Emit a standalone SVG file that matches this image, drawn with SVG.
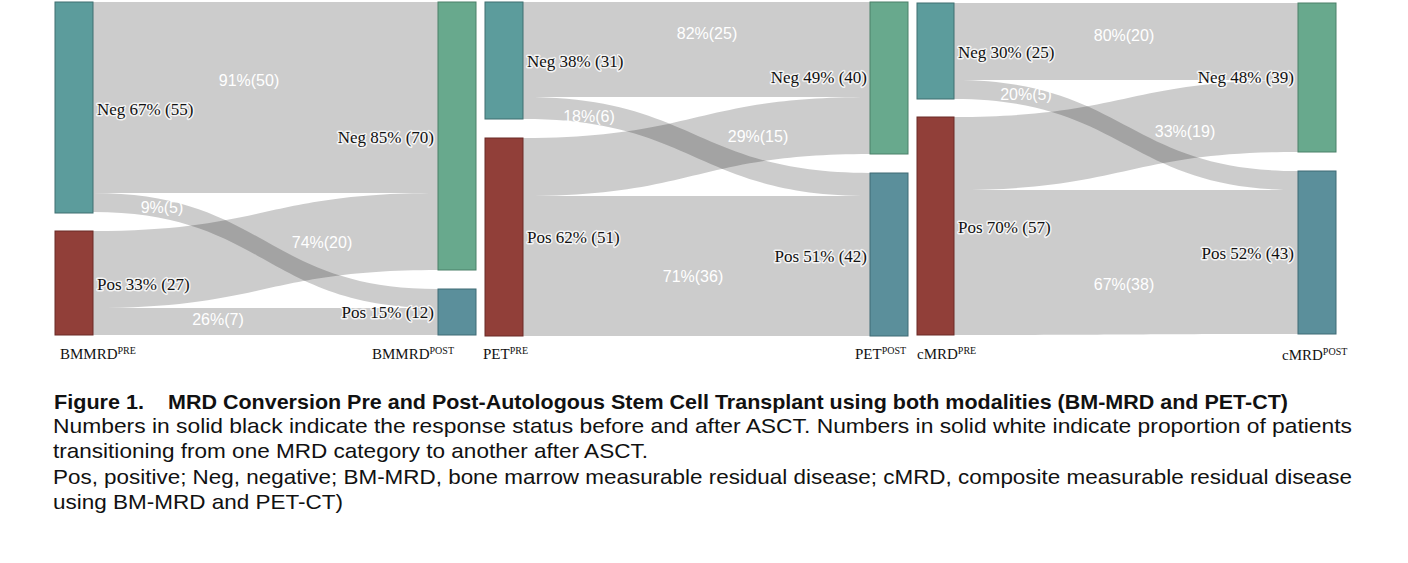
<svg xmlns="http://www.w3.org/2000/svg" width="1408" height="563" viewBox="0 0 1408 563">
<style>
.flow{fill:#000;fill-opacity:0.2}
.nneg{fill:#5c9c9c;stroke:#3f6f70;stroke-width:1}
.npos{fill:#913f39;stroke:#6a2a26;stroke-width:1}
.pneg{fill:#68a98d;stroke:#4a8068;stroke-width:1}
.ppos{fill:#5b8f9b;stroke:#3f6a74;stroke-width:1}
.nl{font-family:"Liberation Serif","Times New Roman",serif;font-size:17px;fill:#111;stroke:#fff;stroke-width:3;stroke-opacity:0.8;paint-order:stroke;stroke-linejoin:round}
.fl{font-family:"Liberation Sans",Arial,sans-serif;font-size:16px;fill:#fff;text-anchor:middle}
.ax{font-family:"Liberation Serif","Times New Roman",serif;font-size:15px;fill:#111}
.sup{font-size:10px}
.cap{font-family:"Liberation Sans",Arial,sans-serif;font-size:21px;fill:#111}
.capb{font-family:"Liberation Sans",Arial,sans-serif;font-size:21px;font-weight:bold;fill:#111}
</style>
<rect width="1408" height="563" fill="#fff"/>
<g id="connectors">
<path class="flow" d="M93,2 L438,2 L438,193 L93,193 Z"/>
<path class="flow" d="M93,193 C265,193 265,289 438,289 L438,308 C265,308 265,212 93,212 Z"/>
<path class="flow" d="M93,231 C265,231 265,193 438,193 L438,270 C265,270 265,308 93,308 Z"/>
<path class="flow" d="M93,308 L438,308 L438,335 L93,335 Z"/>
<path class="flow" d="M523,2 L870,2 L870,97 L523,97 Z"/>
<path class="flow" d="M523,97 C696,97 696,173 870,173 L870,196 C696,196 696,119 523,119 Z"/>
<path class="flow" d="M523,138 C696,138 696,97 870,97 L870,154 C696,154 696,196 523,196 Z"/>
<path class="flow" d="M523,196 L870,196 L870,336 L523,336 Z"/>
<path class="flow" d="M954,3 L1298,3 L1298,80 L954,80 Z"/>
<path class="flow" d="M954,80 C1126,80 1126,171 1298,171 L1298,190 C1126,190 1126,99 954,99 Z"/>
<path class="flow" d="M954,117 C1126,117 1126,80 1298,80 L1298,152 C1126,152 1126,190 954,190 Z"/>
<path class="flow" d="M954,190 L1298,190 L1298,334 C1126,334 1126,335 954,335 Z"/>
</g>
<g id="flow-labels">
<text class="fl" x="249" y="86">91%(50)</text>
<text class="fl" x="162" y="213">9%(5)</text>
<text class="fl" x="322" y="248">74%(20)</text>
<text class="fl" x="218" y="325">26%(7)</text>
<text class="fl" x="707" y="39">82%(25)</text>
<text class="fl" x="589" y="122">18%(6)</text>
<text class="fl" x="758" y="142">29%(15)</text>
<text class="fl" x="693" y="282">71%(36)</text>
<text class="fl" x="1124" y="41">80%(20)</text>
<text class="fl" x="1026" y="100">20%(5)</text>
<text class="fl" x="1185" y="137">33%(19)</text>
<text class="fl" x="1124" y="290">67%(38)</text>
</g>
<g id="bm-pre-neg"><rect class="nneg" x="55" y="2" width="38" height="211"/><text class="nl" x="97" y="115">Neg 67% (55)</text></g>
<g id="bm-pre-pos"><rect class="npos" x="55" y="231" width="38" height="104"/><text class="nl" x="97" y="290">Pos 33% (27)</text></g>
<g id="bm-post-neg"><rect class="pneg" x="438" y="2" width="38" height="268"/><text class="nl" x="434" y="143" text-anchor="end">Neg 85% (70)</text></g>
<g id="bm-post-pos"><rect class="ppos" x="438" y="289" width="38" height="46"/><text class="nl" x="434" y="318" text-anchor="end">Pos 15% (12)</text></g>
<g id="pet-pre-neg"><rect class="nneg" x="485" y="2" width="38" height="117"/><text class="nl" x="527" y="67">Neg 38% (31)</text></g>
<g id="pet-pre-pos"><rect class="npos" x="485" y="138" width="38" height="198"/><text class="nl" x="527" y="243">Pos 62% (51)</text></g>
<g id="pet-post-neg"><rect class="pneg" x="870" y="2" width="38" height="152"/><text class="nl" x="867" y="83" text-anchor="end">Neg 49% (40)</text></g>
<g id="pet-post-pos"><rect class="ppos" x="870" y="173" width="38" height="163"/><text class="nl" x="867" y="262" text-anchor="end">Pos 51% (42)</text></g>
<g id="cmrd-pre-neg"><rect class="nneg" x="917" y="3" width="37" height="96"/><text class="nl" x="958" y="58">Neg 30% (25)</text></g>
<g id="cmrd-pre-pos"><rect class="npos" x="917" y="117" width="37" height="218"/><text class="nl" x="958" y="233">Pos 70% (57)</text></g>
<g id="cmrd-post-neg"><rect class="pneg" x="1298" y="3" width="38" height="149"/><text class="nl" x="1294" y="83" text-anchor="end">Neg 48% (39)</text></g>
<g id="cmrd-post-pos"><rect class="ppos" x="1298" y="171" width="38" height="163"/><text class="nl" x="1294" y="259" text-anchor="end">Pos 52% (43)</text></g>
<g id="axis-labels">
<text class="ax" x="60" y="359">BMMRD<tspan class="sup" dy="-5">PRE</tspan></text>
<text class="ax" x="372" y="359">BMMRD<tspan class="sup" dy="-5">POST</tspan></text>
<text class="ax" x="483" y="359">PET<tspan class="sup" dy="-5">PRE</tspan></text>
<text class="ax" x="855" y="359">PET<tspan class="sup" dy="-5">POST</tspan></text>
<text class="ax" x="917" y="359">cMRD<tspan class="sup" dy="-5">PRE</tspan></text>
<text class="ax" x="1282" y="360">cMRD<tspan class="sup" dy="-5">POST</tspan></text>
</g>
<g id="caption">
<text class="capb" x="54" y="409" textLength="90" lengthAdjust="spacingAndGlyphs">Figure 1.</text>
<text class="capb" x="168" y="409" textLength="1120" lengthAdjust="spacingAndGlyphs">MRD Conversion Pre and Post-Autologous Stem Cell Transplant using both modalities (BM-MRD and PET-CT)</text>
<text class="cap" x="53" y="433" textLength="1299" lengthAdjust="spacingAndGlyphs">Numbers in solid black indicate the response status before and after ASCT. Numbers in solid white indicate proportion of patients</text>
<text class="cap" x="53" y="458" textLength="595" lengthAdjust="spacingAndGlyphs">transitioning from one MRD category to another after ASCT.</text>
<text class="cap" x="53" y="484" textLength="1299" lengthAdjust="spacingAndGlyphs">Pos, positive; Neg, negative; BM-MRD, bone marrow measurable residual disease; cMRD, composite measurable residual disease</text>
<text class="cap" x="53" y="509" textLength="290" lengthAdjust="spacingAndGlyphs">using BM-MRD and PET-CT)</text>
</g>
</svg>
